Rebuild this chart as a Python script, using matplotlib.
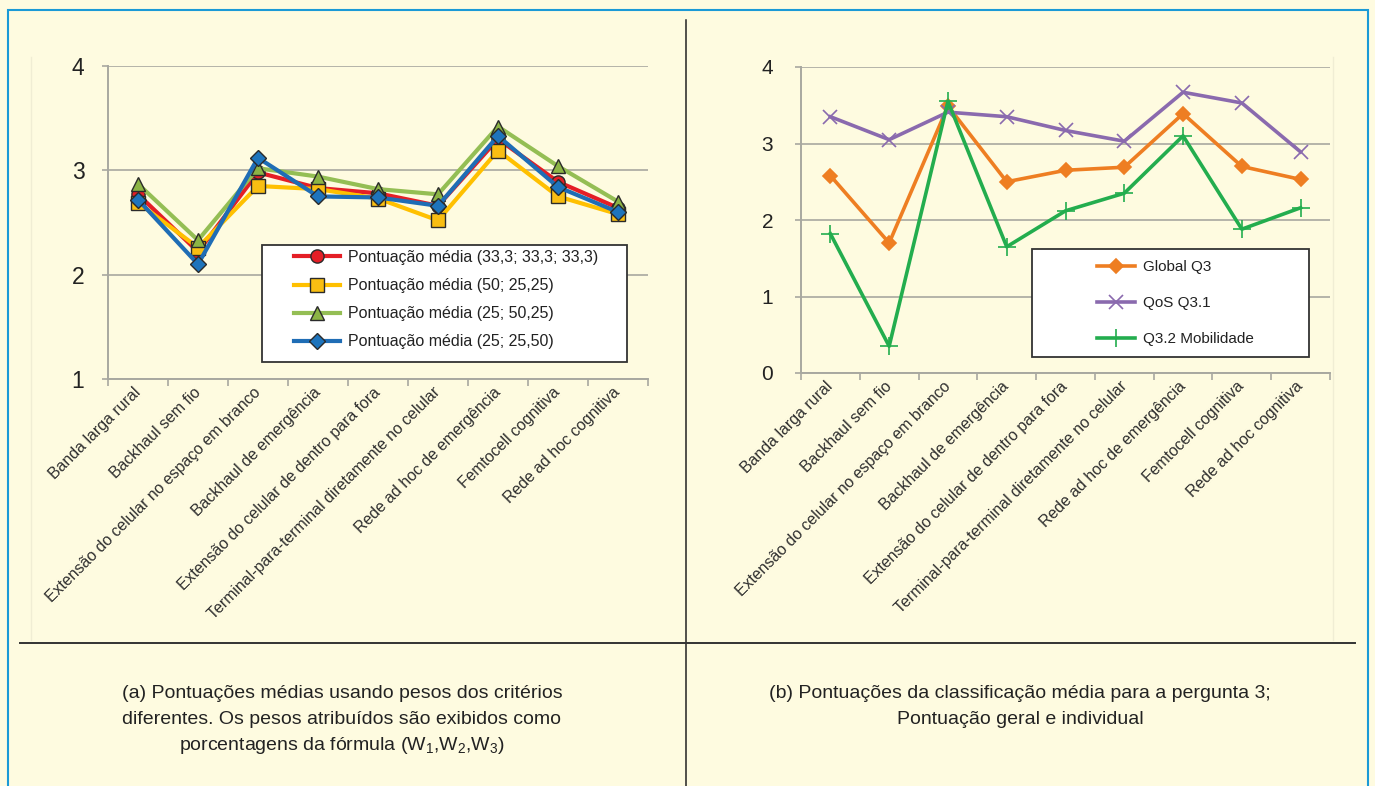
"""Two-panel line chart: average scores per radio-access scenario.

(a) averages under four criteria weightings, (b) global and individual
scores for question 3. Saves out.png.
"""

import matplotlib

matplotlib.use("Agg")
import matplotlib.pyplot as plt  # noqa: E402
from matplotlib.lines import Line2D  # noqa: E402
from matplotlib.patches import Rectangle  # noqa: E402

plt.rcParams["font.family"] = ["Liberation Sans", "DejaVu Sans"]
plt.rcParams["mathtext.fontset"] = "custom"
plt.rcParams["mathtext.rm"] = "Liberation Sans"
plt.rcParams["mathtext.it"] = "Liberation Sans"

W, H = 1375, 786
BG = "#FEFBE0"
GRID = "#A8A8A0"

categories = [
    "Banda larga rural",
    "Backhaul sem fio",
    "Extensão do celular no espaço em branco",
    "Backhaul de emergência",
    "Extensão do celular de dentro para fora",
    "Terminal-para-terminal diretamente no celular",
    "Rede ad hoc de emergência",
    "Femtocell cognitiva",
    "Rede ad hoc cognitiva",
]

# panel (a): weights (W1; W2; W3) in percent
equal_w = [2.77, 2.22, 2.98, 2.83, 2.78, 2.66, 3.30, 2.89, 2.64]
w1_50 = [2.69, 2.26, 2.85, 2.82, 2.73, 2.52, 3.19, 2.75, 2.58]
w2_50 = [2.87, 2.33, 3.02, 2.94, 2.82, 2.77, 3.42, 3.04, 2.70]
w3_50 = [2.72, 2.10, 3.12, 2.75, 2.74, 2.66, 3.33, 2.84, 2.60]

# panel (b): question 3
global_q3 = [2.58, 1.70, 3.49, 2.50, 2.65, 2.69, 3.39, 2.70, 2.53]
qos_q31 = [3.35, 3.05, 3.41, 3.35, 3.17, 3.03, 3.67, 3.53, 2.89]
mob_q32 = [1.82, 0.35, 3.55, 1.65, 2.12, 2.35, 3.10, 1.88, 2.16]


def fx(x):
    return x / W


def fy(y):
    return 1 - y / H


def box(x0, y0, x1, y1):
    return [fx(x0), fy(y1), fx(x1) - fx(x0), fy(y0) - fy(y1)]


def style_axes(ax, ylim, yticks, ysize, ypad):
    ax.set_facecolor("none")
    n = len(categories)
    xs = range(n)
    ax.set_xlim(-0.5, n - 0.5)
    ax.set_ylim(*ylim)
    ax.set_yticks(yticks)
    ax.set_yticklabels([str(t) for t in yticks], fontsize=ysize, color="#222222")
    ax.set_xticks(list(xs))
    ax.set_xticklabels(categories, rotation=45, ha="right", va="center",
                       rotation_mode="anchor", fontsize=11.4, color="#2E2E2E")
    ax.set_xticks([i - 0.5 for i in range(n + 1)], minor=True)
    ax.tick_params(axis="x", which="major", length=0, pad=8)
    ax.tick_params(axis="x", which="minor", length=5, color=GRID, width=1.2)
    ax.tick_params(axis="y", length=4, color=GRID, width=1.2, pad=ypad)
    for s in ("top", "right"):
        ax.spines[s].set_visible(False)
    for s in ("left", "bottom"):
        ax.spines[s].set_color(GRID)
        ax.spines[s].set_linewidth(1.4)
    ax.grid(axis="y", color=GRID, lw=1.2)
    ax.set_axisbelow(True)
    return list(xs)


def legend_block(ax, handles, labels, frame, anchor, fs, spacing, hlen):
    fig = ax.figure
    ax.add_patch(Rectangle((fx(frame[0]), fy(frame[3])),
                           fx(frame[2]) - fx(frame[0]),
                           fy(frame[1]) - fy(frame[3]),
                           transform=fig.transFigure, facecolor="white",
                           edgecolor="#333333", lw=1.3, zorder=4, clip_on=False))
    leg = ax.legend(handles, labels, loc="upper left",
                    bbox_to_anchor=(fx(anchor[0]), fy(anchor[1])),
                    bbox_transform=fig.transFigure, frameon=False,
                    fontsize=fs, labelspacing=spacing, handlelength=hlen,
                    handletextpad=0.5, borderpad=0, borderaxespad=0)
    leg.set_zorder(5)
    for t in leg.get_texts():
        t.set_color("#222222")


fig = plt.figure(figsize=(W / 100, H / 100), dpi=100, facecolor=BG)

# ---- panel (a)
ax1 = fig.add_axes(box(108, 66, 648, 379))
xs = style_axes(ax1, (1, 4), [1, 2, 3, 4], 16.5, 13)
a_series = [
    (equal_w, "#E41E26", "o", 9.5, "#E41E26", "Pontuação média (33,3; 33,3; 33,3)"),
    (w1_50, "#FFC000", "s", 10, "#F9BE12", "Pontuação média (50; 25,25)"),
    (w2_50, "#94BE54", "^", 10, "#8CB445", "Pontuação média (25; 50,25)"),
    (w3_50, "#1F6DB5", "D", 8, "#1E74BC", "Pontuação média (25; 25,50)"),
]
handles = []
for vals, col, mk, ms, mfc, lab in a_series:
    h, = ax1.plot(xs, vals, color=col, lw=3, marker=mk, ms=ms, mfc=mfc,
                  mec="#2A2A2A", mew=1.0, zorder=3)
    handles.append(h)
legend_block(ax1, handles, [s[-1] for s in a_series],
             frame=(262, 245, 627, 362), anchor=(294, 250), fs=11.5,
             spacing=0.82, hlen=2.9)

# ---- panel (b)
ax2 = fig.add_axes(box(801, 67, 1330, 373))
xs = style_axes(ax2, (0, 4), [0, 1, 2, 3, 4], 15, 16)
b_series = [
    (global_q3, "#EE7E22", "D", 7, "Global Q3"),
    (qos_q31, "#8A6AAE", "x", 10, "QoS Q3.1"),
    (mob_q32, "#23AD4E", "+", 13, "Q3.2 Mobilidade"),
]
handles = []
for vals, col, mk, ms, lab in b_series:
    h, = ax2.plot(xs, vals, color=col, lw=2.6, marker=mk, ms=ms, mfc=col,
                  mec=col, mew=1.2, zorder=3)
    handles.append(h)
legend_block(ax2, handles, [s[-1] for s in b_series],
             frame=(1032, 249, 1309, 357), anchor=(1097, 260), fs=11,
             spacing=1.45, hlen=2.5)

# ---- frame, dividers and captions
fig.add_artist(Rectangle((fx(8), fy(H + 5)), fx(1368) - fx(8), fy(10) - fy(H + 5),
                         transform=fig.transFigure, fill=False,
                         edgecolor="#1B9AD6", lw=1.5))
fig.add_artist(Line2D([fx(686), fx(686)], [fy(20), fy(H)], color="#222222", lw=1.1))
fig.add_artist(Line2D([fx(20), fx(1355)], [fy(643), fy(643)], color="#333333", lw=1.4))
for x in (31, 1333):
    fig.add_artist(Line2D([fx(x), fx(x)], [fy(57), fy(640)], color="#F0EDD4", lw=1))

cap = dict(ha="center", va="center", fontsize=14, color="#222222")
fig.text(fx(342), fy(693), "(a) Pontuações médias usando pesos dos critérios", **cap)
fig.text(fx(342), fy(719), "diferentes. Os pesos atribuídos são exibidos como", **cap)
fig.text(fx(342), fy(745), "porcentagens da fórmula (W$_1$,W$_2$,W$_3$)", **cap)
fig.text(fx(1020), fy(693), "(b) Pontuações da classificação média para a pergunta 3;", **cap)
fig.text(fx(1020), fy(719), "Pontuação geral e individual", **cap)

fig.savefig("out.png", dpi=100, facecolor=BG)
